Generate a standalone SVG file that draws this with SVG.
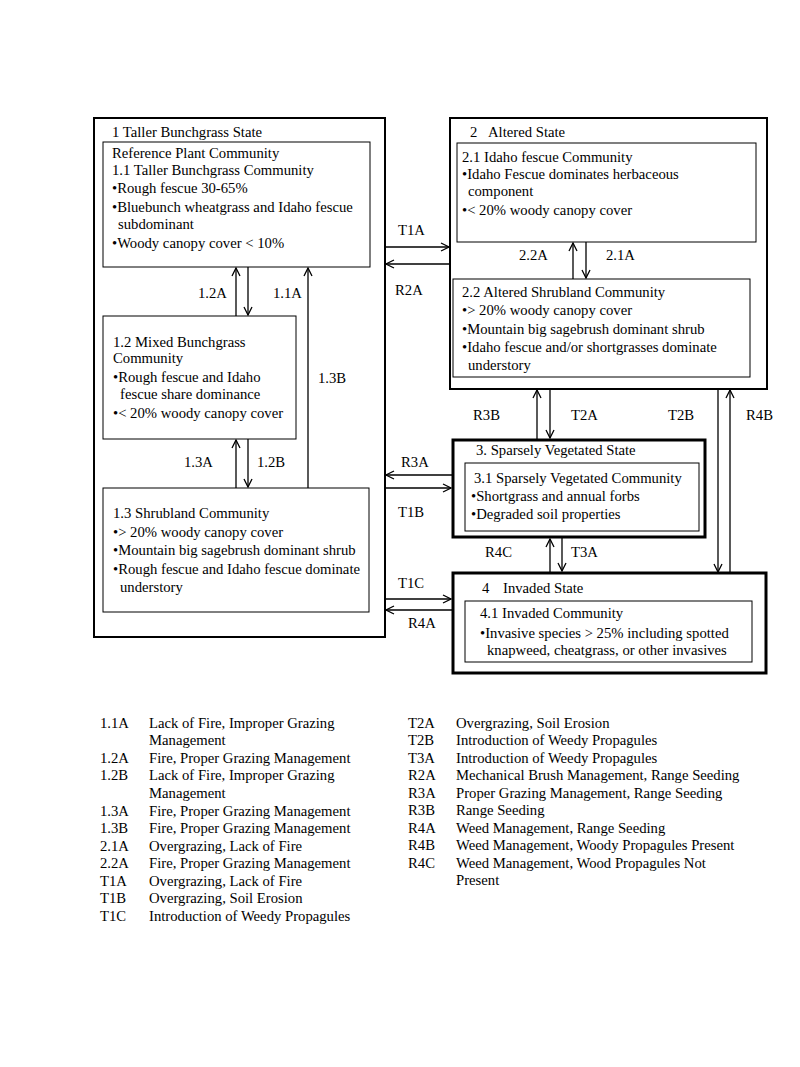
<svg xmlns="http://www.w3.org/2000/svg" width="800" height="1067" viewBox="0 0 800 1067">
<style>
text{font-family:"Liberation Serif","Times New Roman",serif;font-size:14.7px;fill:#000}
.st{fill:none;stroke:#000;stroke-width:2}
.st3{fill:none;stroke:#000;stroke-width:3}
.cm{fill:#fff;stroke:#000;stroke-width:1}
.cn{fill:none;stroke:#000;stroke-width:1.3}
</style>
<defs>
<marker id="ah" markerWidth="10" markerHeight="10" refX="9" refY="5" orient="auto" markerUnits="userSpaceOnUse">
<path d="M1,1 L9,5 L1,9" fill="none" stroke="#000" stroke-width="1.3"/>
</marker>
</defs>
<rect width="800" height="1067" fill="#fff"/>

<g id="state1">
<rect class="st" x="94" y="118" width="291" height="519"/>
<text x="112" y="137">1 Taller Bunchgrass State</text>
</g>
<g id="c11">
<rect class="cm" x="103" y="142" width="267" height="125"/>
<text x="112" y="158">Reference Plant Community</text>
<text x="112" y="175">1.1 Taller Bunchgrass Community</text>
<text x="112" y="193">•Rough fescue 30-65%</text>
<text x="112" y="212">•Bluebunch wheatgrass and Idaho fescue</text>
<text x="118" y="229">subdominant</text>
<text x="112" y="248">•Woody canopy cover &lt; 10%</text>
</g>
<g id="c12">
<rect class="cm" x="103" y="316" width="193" height="123"/>
<text x="113" y="347">1.2 Mixed Bunchgrass</text>
<text x="113" y="363">Community</text>
<text x="113" y="382">•Rough fescue and Idaho</text>
<text x="120" y="399">fescue share dominance</text>
<text x="113" y="418">•&lt; 20% woody canopy cover</text>
</g>
<g id="c13">
<rect class="cm" x="103" y="488" width="266" height="124"/>
<text x="113" y="518">1.3 Shrubland Community</text>
<text x="113" y="537">•&gt; 20% woody canopy cover</text>
<text x="113" y="555">•Mountain big sagebrush dominant shrub</text>
<text x="113" y="574">•Rough fescue and Idaho fescue dominate</text>
<text x="120" y="592">understory</text>
</g>

<g id="state2">
<rect class="st" x="450" y="118" width="317" height="271"/>
<text x="470" y="137">2</text>
<text x="488" y="137">Altered State</text>
</g>
<g id="c21">
<rect class="cm" x="457" y="143" width="299" height="99"/>
<text x="462" y="162">2.1 Idaho fescue Community</text>
<text x="462" y="179">•Idaho Fescue dominates herbaceous</text>
<text x="468" y="196">component</text>
<text x="462" y="215">•&lt; 20% woody canopy cover</text>
</g>
<g id="c22">
<rect class="cm" x="453" y="279" width="297" height="98"/>
<text x="462" y="297">2.2 Altered Shrubland Community</text>
<text x="462" y="315">•&gt; 20% woody canopy cover</text>
<text x="462" y="334">•Mountain big sagebrush dominant shrub</text>
<text x="462" y="352">•Idaho fescue and/or shortgrasses dominate</text>
<text x="468" y="370">understory</text>
</g>

<g id="state3">
<rect class="st3" x="453" y="440" width="252" height="97"/>
<text x="476" y="455">3. Sparsely Vegetated State</text>
</g>
<g id="c31">
<rect class="cm" x="465" y="463" width="234" height="68"/>
<text x="474" y="483">3.1 Sparsely Vegetated Community</text>
<text x="471" y="501">•Shortgrass and annual forbs</text>
<text x="471" y="519">•Degraded soil properties</text>
</g>

<g id="state4">
<rect class="st3" x="453" y="573" width="313" height="100"/>
<text x="482" y="593">4</text>
<text x="503" y="593">Invaded State</text>
</g>
<g id="c41">
<rect class="cm" x="465" y="601" width="287" height="61"/>
<text x="480" y="618">4.1 Invaded Community</text>
<text x="480" y="638">•Invasive species &gt; 25% including spotted</text>
<text x="487" y="655">knapweed, cheatgrass, or other invasives</text>
</g>

<g id="connectors">
<line class="cn" x1="236" y1="316" x2="236" y2="268" marker-end="url(#ah)"/>
<line class="cn" x1="248" y1="267" x2="248" y2="315" marker-end="url(#ah)"/>
<line class="cn" x1="308" y1="488" x2="308" y2="268" marker-end="url(#ah)"/>
<line class="cn" x1="236" y1="488" x2="236" y2="440" marker-end="url(#ah)"/>
<line class="cn" x1="248" y1="439" x2="248" y2="487" marker-end="url(#ah)"/>
<line class="cn" x1="385" y1="247" x2="449" y2="247" marker-end="url(#ah)"/>
<line class="cn" x1="449" y1="264" x2="386" y2="264" marker-end="url(#ah)"/>
<line class="cn" x1="573" y1="279" x2="573" y2="243" marker-end="url(#ah)"/>
<line class="cn" x1="586" y1="242" x2="586" y2="278" marker-end="url(#ah)"/>
<line class="cn" x1="537" y1="439" x2="537" y2="390" marker-end="url(#ah)"/>
<line class="cn" x1="550" y1="389" x2="550" y2="438" marker-end="url(#ah)"/>
<line class="cn" x1="718" y1="389" x2="718" y2="572" marker-end="url(#ah)"/>
<line class="cn" x1="730" y1="572" x2="730" y2="390" marker-end="url(#ah)"/>
<line class="cn" x1="452" y1="475" x2="386" y2="475" marker-end="url(#ah)"/>
<line class="cn" x1="385" y1="488" x2="451" y2="488" marker-end="url(#ah)"/>
<line class="cn" x1="550" y1="572" x2="550" y2="539" marker-end="url(#ah)"/>
<line class="cn" x1="562" y1="538" x2="562" y2="571" marker-end="url(#ah)"/>
<line class="cn" x1="385" y1="599" x2="451" y2="599" marker-end="url(#ah)"/>
<line class="cn" x1="452" y1="610" x2="386" y2="610" marker-end="url(#ah)"/>
<text x="198" y="298">1.2A</text>
<text x="273" y="298">1.1A</text>
<text x="318" y="383">1.3B</text>
<text x="184" y="467">1.3A</text>
<text x="257" y="467">1.2B</text>
<text x="398" y="235">T1A</text>
<text x="395" y="295">R2A</text>
<text x="519" y="260">2.2A</text>
<text x="606" y="260">2.1A</text>
<text x="473" y="420">R3B</text>
<text x="571" y="420">T2A</text>
<text x="668" y="420">T2B</text>
<text x="746" y="420">R4B</text>
<text x="401" y="467">R3A</text>
<text x="398" y="517">T1B</text>
<text x="485" y="557">R4C</text>
<text x="571" y="557">T3A</text>
<text x="398" y="588">T1C</text>
<text x="408" y="628">R4A</text>
</g>

<g id="legend">
<text x="100" y="728">1.1A</text><text x="149" y="728">Lack of Fire, Improper Grazing</text>
<text x="149" y="745">Management</text>
<text x="100" y="763">1.2A</text><text x="149" y="763">Fire, Proper Grazing Management</text>
<text x="100" y="780">1.2B</text><text x="149" y="780">Lack of Fire, Improper Grazing</text>
<text x="149" y="798">Management</text>
<text x="100" y="816">1.3A</text><text x="149" y="816">Fire, Proper Grazing Management</text>
<text x="100" y="833">1.3B</text><text x="149" y="833">Fire, Proper Grazing Management</text>
<text x="100" y="851">2.1A</text><text x="149" y="851">Overgrazing, Lack of Fire</text>
<text x="100" y="868">2.2A</text><text x="149" y="868">Fire, Proper Grazing Management</text>
<text x="100" y="886">T1A</text><text x="149" y="886">Overgrazing, Lack of Fire</text>
<text x="100" y="903">T1B</text><text x="149" y="903">Overgrazing, Soil Erosion</text>
<text x="100" y="921">T1C</text><text x="149" y="921">Introduction of Weedy Propagules</text>
<text x="408" y="728">T2A</text><text x="456" y="728">Overgrazing, Soil Erosion</text>
<text x="408" y="745">T2B</text><text x="456" y="745">Introduction of Weedy Propagules</text>
<text x="408" y="763">T3A</text><text x="456" y="763">Introduction of Weedy Propagules</text>
<text x="408" y="780">R2A</text><text x="456" y="780">Mechanical Brush Management, Range Seeding</text>
<text x="408" y="798">R3A</text><text x="456" y="798">Proper Grazing Management, Range Seeding</text>
<text x="408" y="815">R3B</text><text x="456" y="815">Range Seeding</text>
<text x="408" y="833">R4A</text><text x="456" y="833">Weed Management, Range Seeding</text>
<text x="408" y="850">R4B</text><text x="456" y="850">Weed Management, Woody Propagules Present</text>
<text x="408" y="868">R4C</text><text x="456" y="868">Weed Management, Wood Propagules Not</text>
<text x="456" y="885">Present</text>
</g>
</svg>
